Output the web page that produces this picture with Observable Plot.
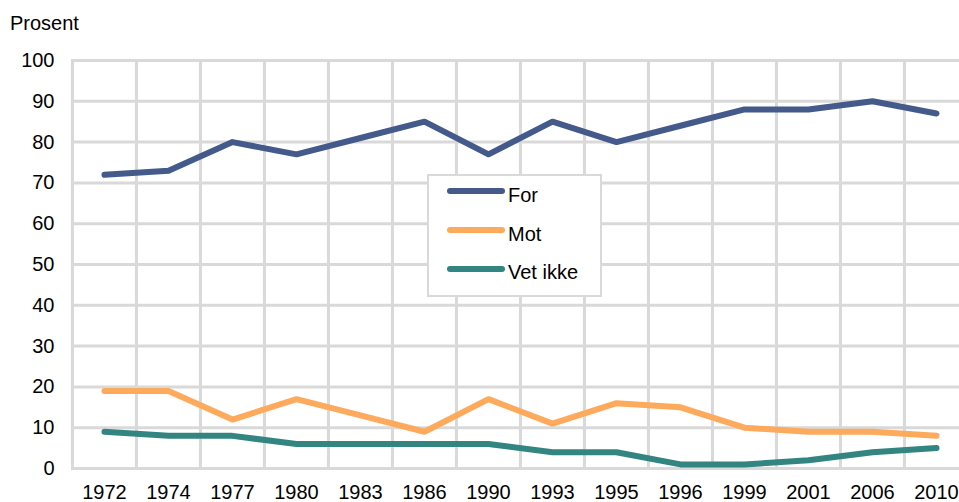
<!DOCTYPE html>
<html>
<head>
<meta charset="utf-8">
<script src="https://cdn.jsdelivr.net/npm/d3@7"></script>
<script src="https://cdn.jsdelivr.net/npm/@observablehq/plot@0.6"></script>
<style>
  html, body { margin: 0; padding: 0; background: #fff; }
  #wrap { position: relative; width: 959px; height: 502px; font-family: "Liberation Sans", Arial, sans-serif; overflow: hidden; }
  #ylabel { position: absolute; left: 10px; top: 12px; font-size: 20px; color: #000; line-height: normal; }
  #legend { position: absolute; left: 427px; top: 174px; width: 171px; height: 119px; border: 2px solid #d9d9d9; background: #fff; }
  .sw { position: absolute; left: 18px; width: 58px; height: 6px; border-radius: 3px; }
  .lt { position: absolute; left: 79px; font-size: 20px; line-height: normal; color: #000; white-space: nowrap; }
</style>
</head>
<body>
<div id="wrap">
  <div id="chart"></div>
  <div id="ylabel">Prosent</div>
  <div id="legend"></div>
</div>
<script>
const years = ["1972","1974","1977","1980","1983","1986","1990","1993","1995","1996","1999","2001","2006","2010"];
const forValues = [72, 73, 80, 77, 81, 85, 77, 85, 80, 84, 88, 88, 90, 87];
const motValues = [19, 19, 12, 17, 13, 9, 17, 11, 16, 15, 10, 9, 9, 8];
const vetIkkeValues = [9, 8, 8, 6, 6, 6, 6, 4, 4, 1, 1, 2, 4, 5];
const seriesNames = ["For", "Mot", "Vet ikke"];
const seriesColors = ["#435a8a", "#fdaa5d", "#328580"];
const yTicks = [0, 10, 20, 30, 40, 50, 60, 70, 80, 90, 100];

const seriesValues = [forValues, motValues, vetIkkeValues];
const data = [];
seriesNames.forEach((name, s) => {
  years.forEach((yr, i) => data.push({year: yr, value: seriesValues[s][i], series: name}));
});

const xRange = [71, 968];
const bw = (xRange[1] - xRange[0]) / years.length;
const grid = "#d9d9d9";

const chart = Plot.plot({
  width: 959,
  height: 502,
  marginTop: 60,
  marginBottom: 34,
  marginLeft: 71,
  marginRight: 0,
  style: {fontFamily: "Liberation Sans, Arial, sans-serif", fontSize: "20px", color: "#000", background: "#fff"},
  x: {type: "band", domain: years, range: xRange, padding: 0, label: null, tickSize: 0, tickPadding: 16},
  y: {domain: [0, 100], ticks: yTicks, label: null, tickSize: 0, tickPadding: 17},
  color: {domain: seriesNames, range: seriesColors},
  marks: [
    Plot.ruleY(yTicks, {stroke: grid, strokeWidth: 3}),
    Plot.ruleX(years, {stroke: grid, strokeWidth: 3, dx: -bw / 2}),
    Plot.line(data, {x: "year", y: "value", z: "series", stroke: "series", strokeWidth: 6, strokeLinecap: "round", strokeLinejoin: "round"})
  ]
});
document.getElementById("chart").appendChild(chart);

const legend = document.getElementById("legend");
const swTops = [12, 51, 90];
const txtTops = [8, 47, 85];
seriesNames.forEach((name, i) => {
  const sw = document.createElement("div");
  sw.className = "sw";
  sw.style.top = swTops[i] + "px";
  sw.style.background = seriesColors[i];
  legend.appendChild(sw);
  const t = document.createElement("div");
  t.className = "lt";
  t.style.top = txtTops[i] + "px";
  t.textContent = name;
  legend.appendChild(t);
});
</script>
</body>
</html>
